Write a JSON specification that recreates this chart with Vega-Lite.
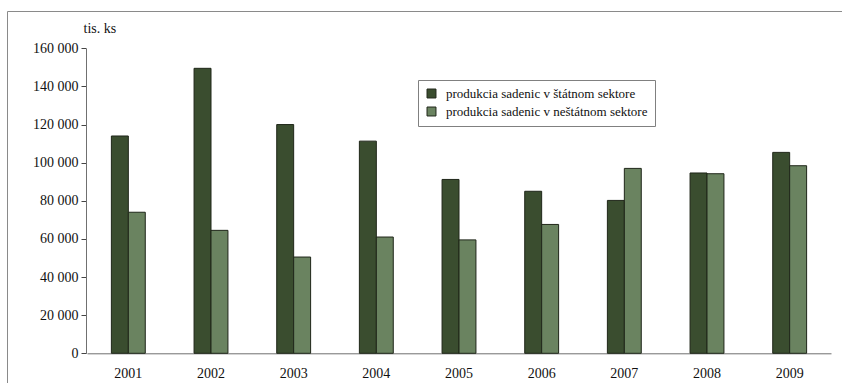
{
  "$schema": "https://vega.github.io/schema/vega-lite/v6.json",
  "width": 840,
  "height": 375,
  "autosize": {"type": "none"},
  "padding": {"left": 7, "top": 11, "right": 0, "bottom": 0},
  "background": "white",
  "data": {
    "values": [
      {"rok": "2001", "sektor": "produkcia sadenic v štátnom sektore", "hodnota": 114000},
      {"rok": "2001", "sektor": "produkcia sadenic v neštátnom sektore", "hodnota": 74000},
      {"rok": "2002", "sektor": "produkcia sadenic v štátnom sektore", "hodnota": 149500},
      {"rok": "2002", "sektor": "produkcia sadenic v neštátnom sektore", "hodnota": 64500},
      {"rok": "2003", "sektor": "produkcia sadenic v štátnom sektore", "hodnota": 120000},
      {"rok": "2003", "sektor": "produkcia sadenic v neštátnom sektore", "hodnota": 50500},
      {"rok": "2004", "sektor": "produkcia sadenic v štátnom sektore", "hodnota": 111300},
      {"rok": "2004", "sektor": "produkcia sadenic v neštátnom sektore", "hodnota": 61000},
      {"rok": "2005", "sektor": "produkcia sadenic v štátnom sektore", "hodnota": 91200},
      {"rok": "2005", "sektor": "produkcia sadenic v neštátnom sektore", "hodnota": 59500},
      {"rok": "2006", "sektor": "produkcia sadenic v štátnom sektore", "hodnota": 85000},
      {"rok": "2006", "sektor": "produkcia sadenic v neštátnom sektore", "hodnota": 67600},
      {"rok": "2007", "sektor": "produkcia sadenic v štátnom sektore", "hodnota": 80200},
      {"rok": "2007", "sektor": "produkcia sadenic v neštátnom sektore", "hodnota": 97000},
      {"rok": "2008", "sektor": "produkcia sadenic v štátnom sektore", "hodnota": 94600},
      {"rok": "2008", "sektor": "produkcia sadenic v neštátnom sektore", "hodnota": 94200},
      {"rok": "2009", "sektor": "produkcia sadenic v štátnom sektore", "hodnota": 105400},
      {"rok": "2009", "sektor": "produkcia sadenic v neštátnom sektore", "hodnota": 98400}
    ]
  },
  "mark": {"type": "bar", "stroke": "#1f2619", "strokeWidth": 1},
  "encoding": {
    "x": {
      "field": "rok",
      "type": "nominal",
      "scale": {"range": [80, 824], "paddingInner": 0.59, "paddingOuter": 0.295},
      "axis": {
        "title": null,
        "labelAngle": 0,
        "offset": -32.7,
        "ticks": false,
        "labelPadding": 13,
        "domainColor": "#707070",
        "labelFont": "Liberation Serif",
        "labelFontSize": 14,
        "labelColor": "#111"
      }
    },
    "xOffset": {
      "field": "sektor",
      "type": "nominal",
      "sort": ["produkcia sadenic v štátnom sektore", "produkcia sadenic v neštátnom sektore"]
    },
    "y": {
      "field": "hodnota",
      "type": "quantitative",
      "scale": {"domain": [0, 160000], "range": [342.3, 37.3], "nice": false},
      "axis": {
        "values": [0, 20000, 40000, 60000, 80000, 100000, 120000, 140000, 160000],
        "labelExpr": "replace(format(datum.value, ','), ',', ' ')",
        "offset": -79,
        "grid": false,
        "tickSize": 5,
        "tickColor": "#444",
        "domainColor": "#707070",
        "labelPadding": 3,
        "labelFont": "Liberation Serif",
        "labelFontSize": 14,
        "labelColor": "#111",
        "title": "tis. ks",
        "titleAngle": 0,
        "titleAlign": "left",
        "titleBaseline": "alphabetic",
        "titleX": -3,
        "titleY": 21,
        "titleFont": "Liberation Serif",
        "titleFontSize": 14,
        "titleFontWeight": "normal",
        "titleColor": "#111"
      }
    },
    "color": {
      "field": "sektor",
      "type": "nominal",
      "sort": ["produkcia sadenic v štátnom sektore", "produkcia sadenic v neštátnom sektore"],
      "scale": {"range": ["#3a4d2f", "#6a8360"]},
      "legend": {
        "title": null,
        "orient": "none",
        "legendX": 411,
        "legendY": 69,
        "symbolType": "square",
        "symbolSize": 80,
        "symbolStrokeColor": "#1f2619",
        "symbolStrokeWidth": 1,
        "labelFont": "Liberation Serif",
        "labelFontSize": 13,
        "labelLimit": 400,
        "labelColor": "#111",
        "strokeColor": "#808080",
        "padding": 7,
        "rowPadding": 4,
        "labelOffset": 8
      }
    }
  },
  "config": {
    "font": "Liberation Serif",
    "view": {"stroke": "#8a8a8a", "strokeWidth": 1}
  }
}
